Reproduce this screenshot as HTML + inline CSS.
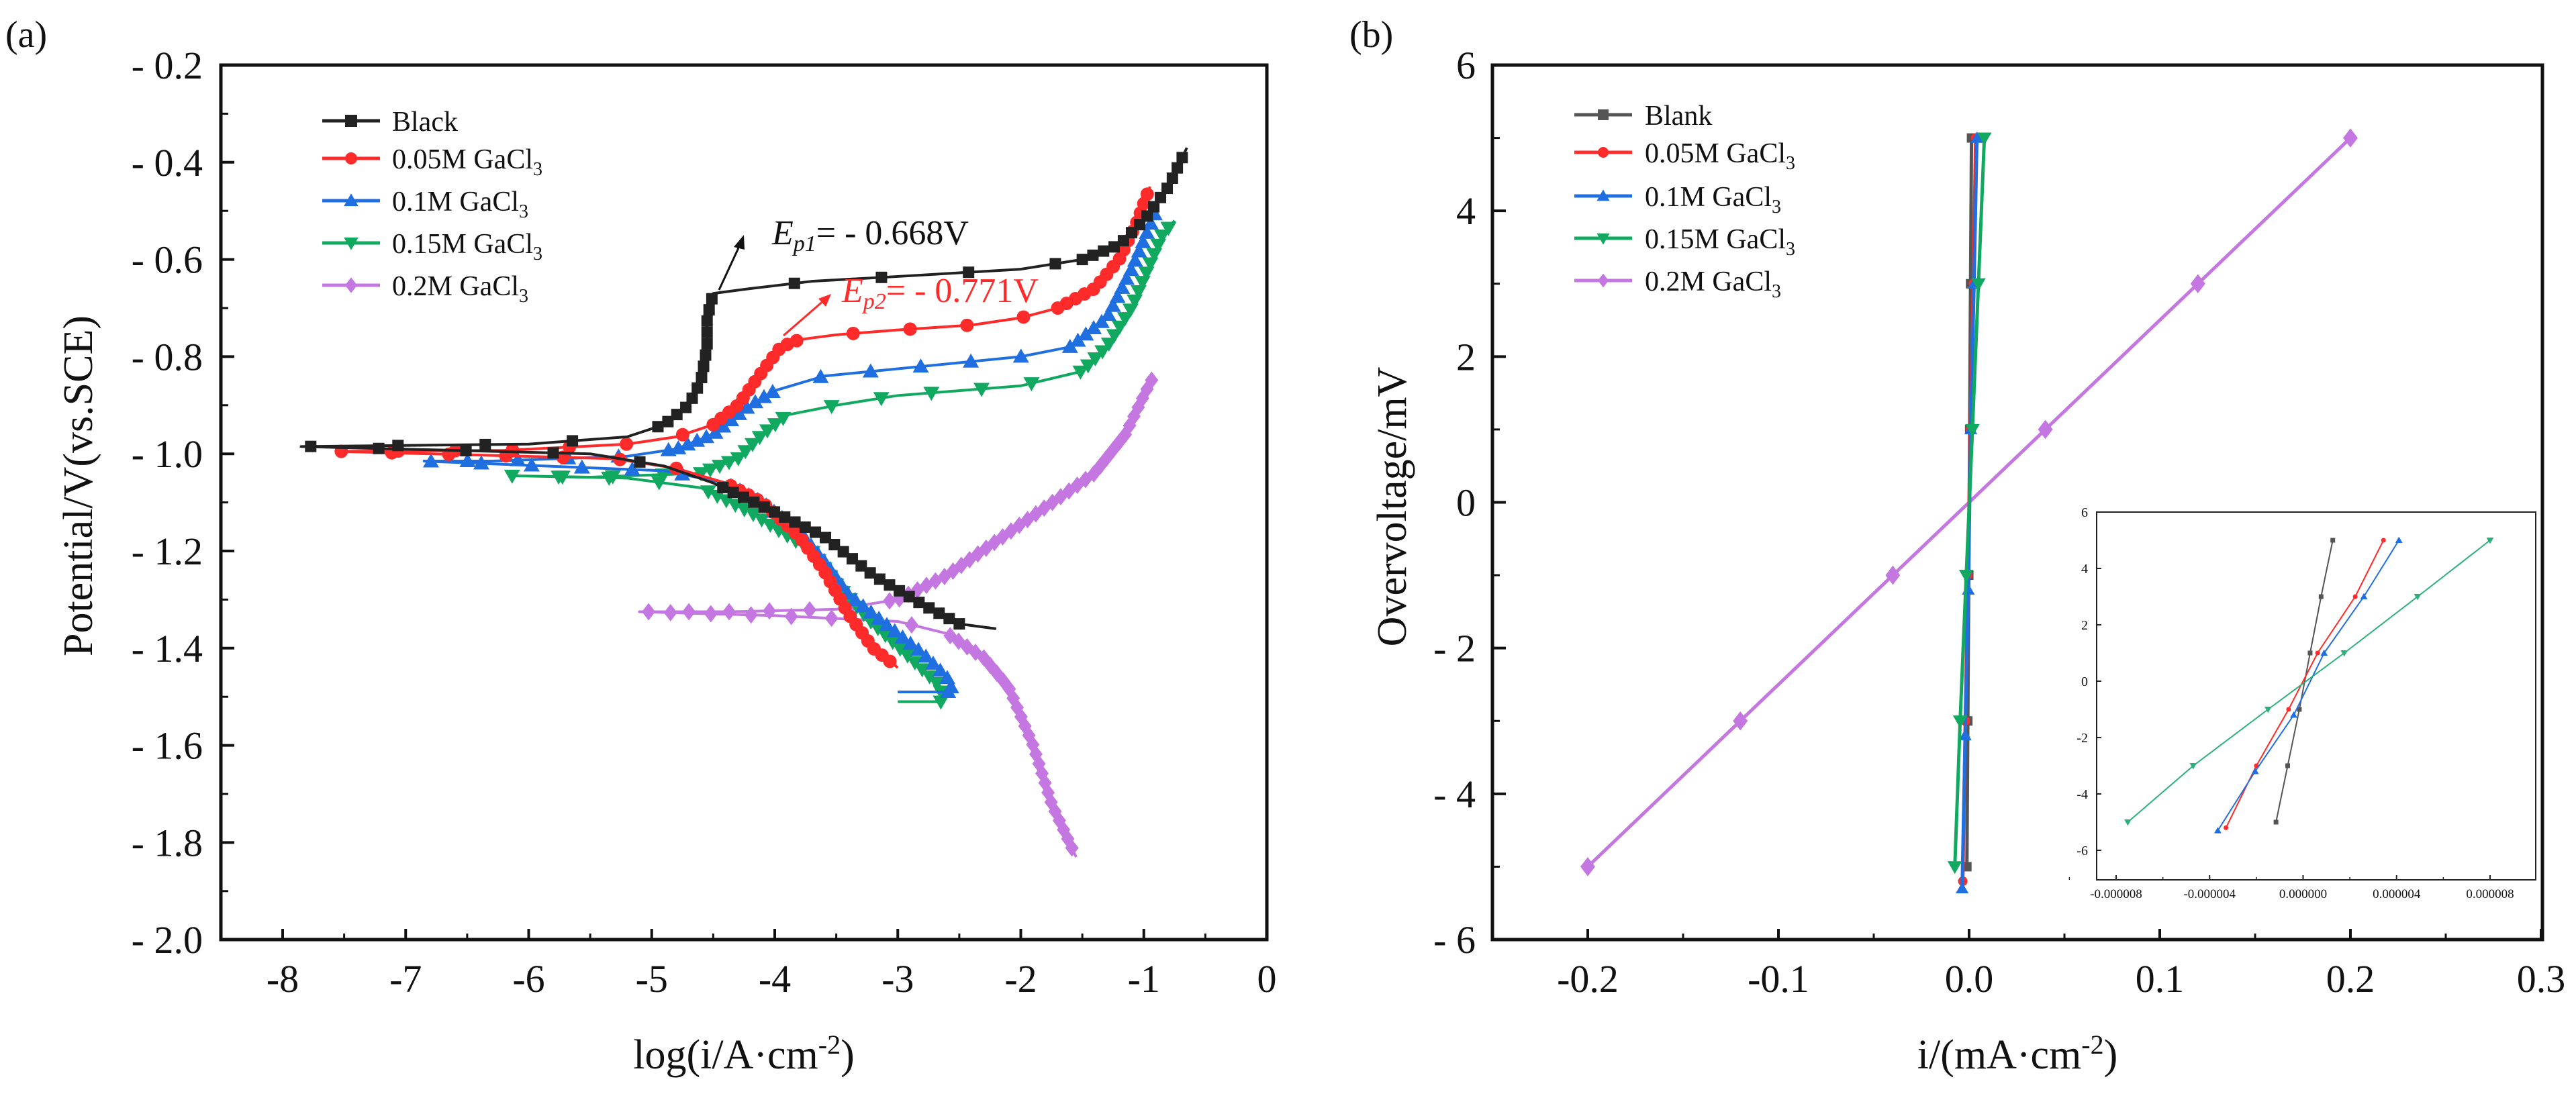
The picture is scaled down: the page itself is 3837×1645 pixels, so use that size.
<!DOCTYPE html>
<html><head><meta charset="utf-8"><style>
html,body{margin:0;padding:0;background:#fff}
svg, svg text, svg tspan{font-family:"Liberation Serif",serif}
svg text{fill:#111}
</style></head><body>
<svg id="fig" xmlns="http://www.w3.org/2000/svg" width="3837" height="1640" viewBox="0 0 3837 1640" font-family="Liberation Serif, serif">
<rect width="3837" height="1640" fill="#fff"/>
<g id="pa"></g>
<g id="pb"></g>
</svg>
<script>
// ---------- Panel (a) data: [log i, E] ----------
const aBlack = [[-2.2,-1.36],[-2.5,-1.35],[-2.8,-1.31],[-3.2,-1.25],[-3.6,-1.17],[-4.0,-1.12],[-4.5,-1.06],[-4.9,-1.025],[-5.5,-1.0],[-7.85,-0.985],[-6.0,-0.98],[-5.2,-0.965],[-4.9,-0.94],[-4.7,-0.9],[-4.6,-0.85],[-4.55,-0.78],[-4.55,-0.72],[-4.5,-0.67],[-4.2,-0.66],[-3.7,-0.645],[-3.0,-0.635],[-2.0,-0.62],[-1.5,-0.6],[-1.2,-0.57],[-1.0,-0.52],[-0.8,-0.45],[-0.65,-0.37]];
const aRed = [[-3.0,-1.44],[-3.2,-1.4],[-3.4,-1.33],[-3.6,-1.24],[-3.8,-1.17],[-4.1,-1.1],[-4.4,-1.06],[-4.8,-1.03],[-5.3,-1.01],[-7.55,-0.995],[-6.2,-0.993],[-5.2,-0.98],[-4.8,-0.965],[-4.5,-0.94],[-4.3,-0.9],[-4.1,-0.83],[-3.95,-0.78],[-3.8,-0.765],[-3.5,-0.755],[-3.0,-0.745],[-2.4,-0.735],[-2.0,-0.72],[-1.7,-0.7],[-1.4,-0.66],[-1.2,-0.6],[-1.05,-0.52],[-0.95,-0.45]];
const aBlue = [[-3.0,-1.49],[-2.55,-1.49],[-2.6,-1.46],[-2.8,-1.41],[-3.1,-1.35],[-3.4,-1.29],[-3.6,-1.22],[-3.8,-1.16],[-4.1,-1.1],[-4.4,-1.06],[-4.9,-1.035],[-6.85,-1.015],[-6.3,-1.015],[-5.2,-1.005],[-4.8,-0.99],[-4.5,-0.96],[-4.2,-0.9],[-4.0,-0.87],[-3.6,-0.84],[-3.0,-0.825],[-2.0,-0.8],[-1.6,-0.78],[-1.3,-0.72],[-1.1,-0.62],[-0.9,-0.5]];
const aGreen = [[-3.0,-1.51],[-2.65,-1.51],[-2.65,-1.48],[-2.9,-1.42],[-3.2,-1.35],[-3.5,-1.27],[-3.7,-1.2],[-4.2,-1.12],[-4.6,-1.07],[-5.2,-1.05],[-6.15,-1.045],[-5.5,-1.048],[-4.6,-1.04],[-4.3,-1.01],[-4.1,-0.96],[-3.9,-0.92],[-3.5,-0.9],[-3.0,-0.88],[-2.0,-0.86],[-1.5,-0.83],[-1.3,-0.78],[-1.1,-0.7],[-0.85,-0.55],[-0.75,-0.52]];
const aPurple = [[-1.55,-1.83],[-1.75,-1.72],[-1.9,-1.6],[-2.1,-1.48],[-2.3,-1.42],[-2.6,-1.37],[-3.0,-1.345],[-4.0,-1.333],[-5.1,-1.325],[-4.35,-1.325],[-3.5,-1.32],[-3.0,-1.3],[-2.6,-1.25],[-2.2,-1.18],[-1.8,-1.11],[-1.4,-1.04],[-1.15,-0.96],[-1.0,-0.88],[-0.92,-0.84]];
const aXTicks = [-8,-7,-6,-5,-4,-3,-2,-1,0];
const aYTicks = [-0.2,-0.4,-0.6,-0.8,-1.0,-1.2,-1.4,-1.6,-1.8,-2.0];
const aLegend = ["Black","0.05M GaCl","0.1M GaCl","0.15M GaCl","0.2M GaCl"];

// ---------- Panel (b) data ----------
const bPurpleI = [0.2,0.12,0.04,-0.04,-0.12,-0.2];
const bPurpleV = [5,3,1,-1,-3,-5];
// inset series in units of 1e-6 (main plot uses value*1e-3 mA)
const insBlack = [1.27,0.77,0.3,-0.16,-0.66,-1.16];
const insBlackV = [5,3,1,-1,-3,-5];
const insRed = [3.44,2.23,0.62,-0.62,-2.0,-3.3];
const insRedV = [5,3,1,-1,-3,-5.2];
const insBlue = [4.1,2.6,0.9,-0.4,-2.05,-3.65];
const insBlueV = [5,3,1,-1.2,-3.2,-5.3];
const insGreen = [8,4.9,1.76,-1.5,-4.7,-7.5];
const insGreenV = [5,3,1,-1,-3,-5];
const bXTicks = [-0.2,-0.1,0.0,0.1,0.2,0.3];
const bYTicks = [6,4,2,0,-2,-4,-6];
const insXTicks = [-8,-4,0,4,8];
const insXLabels = ["-0.000008","-0.000004","0.000000","0.000004","0.000008"];
const insYTicks = [6,4,2,0,-2,-4,-6];
const bLegend = ["Blank","0.05M GaCl","0.1M GaCl","0.15M GaCl","0.2M GaCl"];

const COL = {black:"#222",red:"#ff2a2a",blue:"#1f6fe0",green:"#11a860",purple:"#c477e0"};
const NS="http://www.w3.org/2000/svg";
function mk(parent, tag, attrs, txt){const e=document.createElementNS(NS,tag);for(const k in attrs)e.setAttribute(k,attrs[k]);if(txt!==undefined)e.textContent=txt;parent.appendChild(e);return e;}
function marker(parent, shape, x, y, s, c){
  if(shape==="square") return mk(parent,"rect",{x:x-s/2,y:y-s/2,width:s,height:s,fill:c});
  if(shape==="circle") return mk(parent,"circle",{cx:x,cy:y,r:s/2,fill:c});
  if(shape==="up") return mk(parent,"polygon",{points:`${x},${y-s*0.6} ${x-s*0.6},${y+s*0.45} ${x+s*0.6},${y+s*0.45}`,fill:c});
  if(shape==="down") return mk(parent,"polygon",{points:`${x},${y+s*0.6} ${x-s*0.6},${y-s*0.45} ${x+s*0.6},${y-s*0.45}`,fill:c});
  return mk(parent,"polygon",{points:`${x},${y-s*0.65} ${x-s*0.5},${y} ${x},${y+s*0.65} ${x+s*0.5},${y}`,fill:c});
}

// ================= Panel (a) =================
const pa=document.getElementById("pa");
const AX0=329,AX1=1887,AY0=97,AY1=1400;
const xA=v=>AX1+v*183.25;
const yA=E=>AY0+(-0.2-E)*724;
let t;
t=mk(pa,"text",{x:8,y:70,"font-size":56});t.textContent="(a)";

aXTicks.forEach(v=>{
  const l=mk(pa,"line",{x1:xA(v),x2:xA(v),y1:AY1,y2:AY1-16,stroke:"#111","stroke-width":4});
  
  const m=mk(pa,"line",{x1:xA(v-0.5),x2:xA(v-0.5),y1:AY1,y2:AY1-9,stroke:"#111","stroke-width":3});
  
  const tx=mk(pa,"text",{x:xA(v),y:1478,"font-size":58,"text-anchor":"middle"},String(v));
  
});
aYTicks.forEach(v=>{
  const l=mk(pa,"line",{x1:AX0,x2:AX0+20,y1:yA(v),y2:yA(v),stroke:"#111","stroke-width":4});
  
  if(v>-1.95){const m=mk(pa,"line",{x1:AX0,x2:AX0+11,y1:yA(v-0.1),y2:yA(v-0.1),stroke:"#111","stroke-width":3});
  }
  const tx=mk(pa,"text",{x:302,y:yA(v)+20,"font-size":58,"text-anchor":"end"},"- "+Math.abs(v).toFixed(1));
  
});
const fa=mk(pa,"rect",{x:AX0,y:AY0,width:AX1-AX0,height:AY1-AY0,fill:"none",stroke:"#111","stroke-width":5});

t=mk(pa,"text",{x:1108,y:1592,"font-size":62,"text-anchor":"middle"});
t.innerHTML='log(i/A·cm<tspan dy="-22" font-size="40">-2</tspan><tspan dy="22">)</tspan>';

t=mk(pa,"text",{x:0,y:0,"font-size":62,"text-anchor":"middle",transform:"translate(137,724) rotate(-90)"},"Potential/V(vs.SCE)");


function drawSeriesA(data,c,shape,name,ms,gSteep,gFlat){
  const g=mk(pa,"g",{});
  
  const pts=data.map(d=>[xA(d[0]),yA(d[1])]);
  mk(g,"polyline",{points:pts.map(p=>p.join(",")).join(" "),fill:"none",stroke:c,"stroke-width":4,"stroke-linejoin":"round"});
  let carry=0;
  for(let i=1;i<pts.length;i++){
    const [x0,y0]=pts[i-1],[x1,y1]=pts[i];const L=Math.hypot(x1-x0,y1-y0);
    const slope=Math.abs(y1-y0)/(Math.abs(x1-x0)+1e-6);
    const gap=slope>0.35?gSteep:gFlat;
    let s=Math.max(0,gap-carry);
    while(s<=L){marker(g,shape,x0+(x1-x0)*s/L,y0+(y1-y0)*s/L,ms,c);s+=gap;}
    carry=L-(s-gap);
  }
}
drawSeriesA(aPurple,COL.purple,"diamond","series-0.2M",20,15,60);
drawSeriesA(aGreen,COL.green,"down","series-0.15M",20,15,75);
drawSeriesA(aBlue,COL.blue,"up","series-0.1M",20,15,75);
drawSeriesA(aRed,COL.red,"circle","series-0.05M",20,15,85);
drawSeriesA(aBlack,COL.black,"square","series-black",17,17,130);

const legA=mk(pa,"g",{});

const legShapes=["square","circle","up","down","diamond"];
const legCols=[COL.black,COL.red,COL.blue,COL.green,COL.purple];
const legAY=[180,236,299,362,425];
aLegend.forEach((s,i)=>{
  const e=mk(legA,"g",{});
  
  mk(e,"line",{x1:480,x2:566,y1:legAY[i],y2:legAY[i],stroke:legCols[i],"stroke-width":5});
  marker(e,legShapes[i],523,legAY[i],18,legCols[i]);
  const tx=mk(e,"text",{x:584,y:legAY[i]+15,"font-size":42});
  tx.innerHTML=i===0?s:s+'<tspan dy="10" font-size="28">3</tspan>';
});
const an=mk(pa,"g",{});

mk(an,"line",{x1:1071,y1:432,x2:1103,y2:363,stroke:"#111","stroke-width":3});
mk(an,"polygon",{points:"1108,350 1093,368 1109,372",fill:"#111"});
t=mk(an,"text",{x:1150,y:364,"font-size":52});
t.innerHTML='<tspan font-style="italic">E</tspan><tspan font-style="italic" font-size="34" dy="10">p1</tspan><tspan dy="-10">= - 0.668V</tspan>';
mk(an,"line",{x1:1167,y1:500,x2:1228,y2:447,stroke:COL.red,"stroke-width":3});
mk(an,"polygon",{points:"1238,438 1219,445 1230,457",fill:COL.red});
t=mk(an,"text",{x:1254,y:450,"font-size":52});
t.style.fill=COL.red;
t.innerHTML='<tspan font-style="italic">E</tspan><tspan font-style="italic" font-size="34" dy="10">p2</tspan><tspan dy="-10">= - 0.771V</tspan>';

// ================= Panel (b) =================
const pb=document.getElementById("pb");
const BX0=2223,BX1=3787,BY0=97,BY1=1400;
const xB=v=>BX0+(v+0.25)*2840;
const yB=v=>748.5-v*108.58;
t=mk(pb,"text",{x:2010,y:70,"font-size":56},"(b)");

bXTicks.forEach(v=>{
  const l=mk(pb,"line",{x1:xB(v),x2:xB(v),y1:BY1,y2:BY1-16,stroke:"#111","stroke-width":4});
  
  const m=mk(pb,"line",{x1:xB(v-0.05),x2:xB(v-0.05),y1:BY1,y2:BY1-9,stroke:"#111","stroke-width":3});
  
  const tx=mk(pb,"text",{x:xB(v),y:1478,"font-size":58,"text-anchor":"middle"},v.toFixed(1));
  
});
bYTicks.forEach(v=>{
  const l=mk(pb,"line",{x1:BX0,x2:BX0+20,y1:yB(v),y2:yB(v),stroke:"#111","stroke-width":4});
  
  if(v>-6){const m=mk(pb,"line",{x1:BX0,x2:BX0+11,y1:yB(v-1),y2:yB(v-1),stroke:"#111","stroke-width":3});
  }
  const tx=mk(pb,"text",{x:2198,y:yB(v)+20,"font-size":58,"text-anchor":"end"},v<0?"- "+Math.abs(v):String(v));
  
});
const fb=mk(pb,"rect",{x:BX0,y:BY0,width:BX1-BX0,height:BY1-BY0,fill:"none",stroke:"#111","stroke-width":5});

t=mk(pb,"text",{x:3005,y:1592,"font-size":62,"text-anchor":"middle"});
t.innerHTML='i/(mA·cm<tspan dy="-22" font-size="40">-2</tspan><tspan dy="22">)</tspan>';

t=mk(pb,"text",{x:0,y:0,"font-size":62,"text-anchor":"middle",transform:"translate(2094,755) rotate(-90)"},"Overvoltage/mV");


function drawXY(parent,xs,ys,fx,fy,c,shape,name,lw,ms){
  const g=mk(parent,"g",{});
  
  const pts=xs.map((v,i)=>[fx(v),fy(ys[i])]);
  mk(g,"polyline",{points:pts.map(p=>p.join(",")).join(" "),fill:"none",stroke:c,"stroke-width":lw});
  pts.forEach(p=>marker(g,shape,p[0],p[1],ms,c));
}
const sc=a=>a.map(v=>v*1e-3);
drawXY(pb,bPurpleI,bPurpleV,xB,yB,COL.purple,"diamond","series-0.2M-b",5,22);
drawXY(pb,sc(insBlack),insBlackV,xB,yB,"#555","square","series-blank-b",5,14);
drawXY(pb,sc(insRed),insRedV,xB,yB,COL.red,"circle","series-0.05M-b",5,14);
drawXY(pb,sc(insBlue),insBlueV,xB,yB,COL.blue,"up","series-0.1M-b",5,16);
drawXY(pb,sc(insGreen),insGreenV,xB,yB,COL.green,"down","series-0.15M-b",5,18);

const legB=mk(pb,"g",{});

const legBY=[171,227,292,355,418];
const legBC=["#555",COL.red,COL.blue,COL.green,COL.purple];
bLegend.forEach((s,i)=>{
  const e=mk(legB,"g",{});
  
  mk(e,"line",{x1:2345,x2:2431,y1:legBY[i],y2:legBY[i],stroke:legBC[i],"stroke-width":5});
  marker(e,legShapes[i],2388,legBY[i],16,legBC[i]);
  const tx=mk(e,"text",{x:2450,y:legBY[i]+15,"font-size":42});
  tx.innerHTML=i===0?s:s+'<tspan dy="10" font-size="28">3</tspan>';
});

const ins=mk(pb,"g",{});

const IX0=3123,IX1=3777,IY0=763,IY1=1311;
const xI=v=>3430.5+v*34.81;
const yI=v=>1015-v*42;
mk(ins,"rect",{x:IX0,y:IY0,width:IX1-IX0,height:IY1-IY0,fill:"#fff",stroke:"#222","stroke-width":2});
insXTicks.forEach((v,i)=>{
  const l=mk(ins,"line",{x1:xI(v),x2:xI(v),y1:IY1,y2:IY1-7,stroke:"#222","stroke-width":2});
  
  const m=mk(ins,"line",{x1:xI(v-2),x2:xI(v-2),y1:IY1,y2:IY1-4,stroke:"#222","stroke-width":1.5});
  
  const tx=mk(ins,"text",{x:xI(v),y:1338,"font-size":19,"text-anchor":"middle"},insXLabels[i]);
  
});
insYTicks.forEach(v=>{
  const l=mk(ins,"line",{x1:IX0,x2:IX0+7,y1:yI(v),y2:yI(v),stroke:"#222","stroke-width":2});
  
  const tx=mk(ins,"text",{x:3110,y:yI(v)+7,"font-size":20,"text-anchor":"end"},String(v));
  
});
drawXY(ins,insBlack,insBlackV,xI,yI,"#555","square","inset-series-blank",2,7);
drawXY(ins,insRed,insRedV,xI,yI,COL.red,"circle","inset-series-0.05M",2,7);
drawXY(ins,insBlue,insBlueV,xI,yI,COL.blue,"up","inset-series-0.1M",2,9);
drawXY(ins,insGreen,insGreenV,xI,yI,"#2cb07a","down","inset-series-0.15M",2,9);
</script>
</body></html>
